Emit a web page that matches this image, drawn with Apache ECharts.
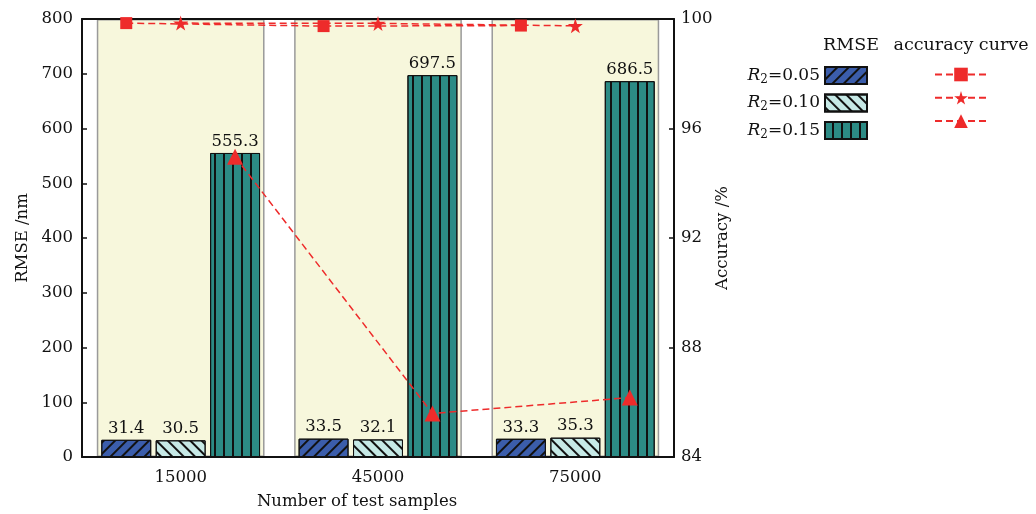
<!DOCTYPE html>
<html>
<head>
<meta charset="utf-8">
<script src="https://cdn.jsdelivr.net/npm/echarts@6/dist/echarts.min.js"></script>
<style>
html,body{margin:0;padding:0;background:#fff;}
#chart{width:1036px;height:514px;}
</style>
</head>
<body>
<div id="chart"></div>
<script>
// ---- data ----
var categories = ['15000', '45000', '75000'];
var r2Levels = ['0.05', '0.10', '0.15'];
var rmse005 = [31.4, 33.5, 33.3];
var rmse010 = [30.5, 32.1, 35.3];
var rmse015 = [555.3, 697.5, 686.5];
var acc005 = [99.85, 99.74, 99.76];
var acc010 = [99.85, 99.84, 99.75];
var acc015 = [94.97, 85.59, 86.17];
var rmseTicks = [0, 800, 100];   // min, max, interval
var accTicks = [84, 100, 4];

// ---- style ----
var FONT = 'DejaVu Serif';
var FS = 16.5;
var BAR_W = 0.253, BAR_GAP = 0.09;
var OFFSET = BAR_W * (1 + BAR_GAP);
var RED = '#ee2b2b';
var barColors = ['#3b5dab', '#c6e9e6', '#2c8b85'];
var STAR = 'path://M50,0 L61,35 L98,35 L68,57 L79,91 L50,70 L21,91 L32,57 L2,35 L39,35 Z';
var symbols = ['rect', STAR, 'triangle'];
var symbolSizes = [12, 15, 16];
var decals = [
  {symbol:'rect', symbolSize:1, color:'#111', dashArrayX:[1,0], dashArrayY:[1.6,5.6], rotation:-Math.PI/4},
  {symbol:'rect', symbolSize:1, color:'#111', dashArrayX:[1,0], dashArrayY:[1.6,5.6], rotation:Math.PI/4},
  {symbol:'rect', symbolSize:1, color:'#111', dashArrayX:[1,0], dashArrayY:[1.8,6.5], rotation:Math.PI/2}
];
var rmseData = [rmse005, rmse010, rmse015];
var accData = [acc005, acc010, acc015];

var barNames = r2Levels.map(function(v){ return 'R2=' + v; });
var lineNames = r2Levels.map(function(v){ return 'acc R2=' + v; });

var series = [];
// category background boxes
series.push({
  type:'bar', name:'box', xAxisIndex:1, yAxisIndex:0, silent:true, z:-1,
  barWidth:'85%', data: categories.map(function(){ return rmseTicks[1]; }),
  itemStyle:{color:'#f7f7dc', borderColor:'#9a9a9a', borderWidth:1.5}
});
rmseData.forEach(function(arr, k){
  series.push({
    type:'bar', name:barNames[k], xAxisIndex:0, yAxisIndex:0,
    barWidth:(BAR_W*100)+'%', barGap:(BAR_GAP*100)+'%',
    data: arr,
    itemStyle:{color:barColors[k], borderColor:'#111', borderWidth:1, decal:decals[k]},
    label:{show:true, position:'top', distance:3, color:'#111', fontFamily:FONT, fontSize:FS,
      formatter:function(p){ return p.value.toFixed(1); }}
  });
});
accData.forEach(function(arr, k){
  series.push({
    type:'line', name:lineNames[k], xAxisIndex:2, yAxisIndex:1, z:5,
    data: arr.map(function(v, i){ return [i + 0.5 + (k-1)*OFFSET, v]; }),
    symbol:symbols[k], symbolSize:symbolSizes[k], showSymbol:true,
    itemStyle:{color:RED},
    lineStyle:{color:RED, width:1.5, type:[7,4]}
  });
});

var chart = echarts.init(document.getElementById('chart'), null, {renderer:'canvas'});
chart.setOption({
  animation:false,
  textStyle:{fontFamily:FONT},
  grid:{left:82, right:362, top:19, bottom:57, containLabel:false, outerBoundsMode:'none'},
  xAxis:[
    {type:'category', data:categories, position:'bottom',
     axisLine:{lineStyle:{color:'#111', width:2}}, axisTick:{show:false},
     axisLabel:{color:'#111', fontFamily:FONT, fontSize:FS, margin:12},
     name:'Number of test samples', nameLocation:'middle', nameGap:36,
     nameTextStyle:{color:'#111', fontFamily:FONT, fontSize:FS, padding:[0,42,0,0]}},
    {type:'category', data:categories, position:'top',
     axisLine:{show:true, lineStyle:{color:'#111', width:2}}, axisTick:{show:false}, axisLabel:{show:false}},
    {type:'value', min:0, max:categories.length, show:false}
  ],
  yAxis:[
    {type:'value', min:rmseTicks[0], max:rmseTicks[1], interval:rmseTicks[2], position:'left',
     axisLine:{show:true, lineStyle:{color:'#111', width:2}},
     axisTick:{show:true, inside:true, length:5, lineStyle:{color:'#111', width:1.5}},
     splitLine:{show:false},
     axisLabel:{color:'#111', fontFamily:FONT, fontSize:FS, margin:9},
     name:'RMSE /nm', nameLocation:'middle', nameGap:51, nameMoveOverlap:false,
     nameTextStyle:{color:'#111', fontFamily:FONT, fontSize:FS}},
    {type:'value', min:accTicks[0], max:accTicks[1], interval:accTicks[2], position:'right',
     axisLine:{show:true, lineStyle:{color:'#111', width:2}},
     axisTick:{show:true, inside:true, length:5, lineStyle:{color:'#111', width:1.5}},
     splitLine:{show:false},
     axisLabel:{color:'#111', fontFamily:FONT, fontSize:FS, margin:7},
     name:'Accuracy /%', nameLocation:'middle', nameGap:40, nameMoveOverlap:false,
     nameTextStyle:{color:'#111', fontFamily:FONT, fontSize:FS}}
  ],
  legend:[
    {data:barNames, orient:'vertical', right:163, top:61, align:'right',
     itemWidth:42, itemHeight:17, itemGap:8, icon:'rect',
     formatter:function(n){ return '{i|R}{s|2}{n|' + n.slice(2) + '}'; },
     textStyle:{color:'#111', fontFamily:FONT, fontSize:17,
       rich:{i:{fontStyle:'italic', fontFamily:FONT, fontSize:17, color:'#111'},
             s:{fontFamily:FONT, fontSize:12, color:'#111', verticalAlign:'bottom', padding:[8,0,0,0]},
             n:{fontFamily:FONT, fontSize:17, color:'#111'}}}},
    {data:lineNames, orient:'vertical', left:929, top:61,
     itemWidth:52, itemHeight:17, itemGap:8,
     formatter:function(){ return ''; }}
  ],
  graphic:[
    {type:'text', x:851, y:36, style:{text:'RMSE', font:'17.5px "DejaVu Serif"', fill:'#111', textAlign:'center'}},
    {type:'text', x:961, y:36, style:{text:'accuracy curve', font:'17.5px "DejaVu Serif"', fill:'#111', textAlign:'center'}}
  ],
  series:series
});
</script>
</body>
</html>
